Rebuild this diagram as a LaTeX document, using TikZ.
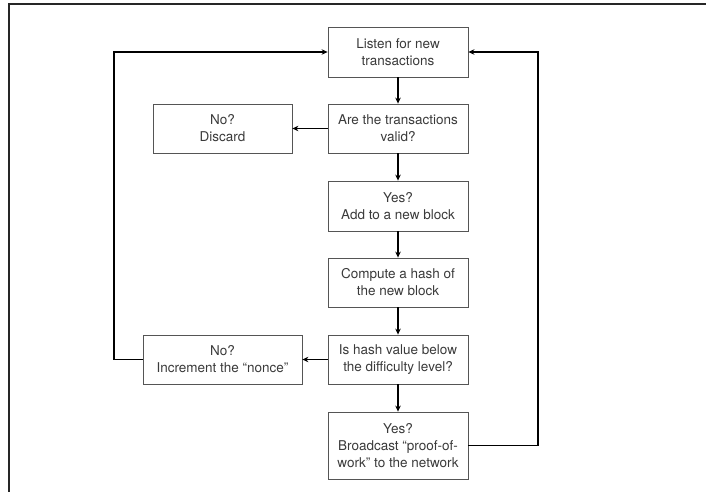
\documentclass[tikz,border=0pt]{standalone}
\usepackage{fontspec}
\setmainfont{TeX Gyre Heros}
\usetikzlibrary{arrows.meta}
\definecolor{boxline}{HTML}{555555}
\definecolor{txt}{HTML}{3A3A3A}
\tikzset{
  flowbox/.style={draw=boxline, line width=0.8pt, minimum width=140pt, minimum height=49pt,
    inner sep=0pt, align=center, text=txt, font=\fontsize{13.5}{17}\selectfont},
  arr/.style={draw=black, line width=1.3pt, -{Stealth[length=6pt,width=5.5pt]}},
  frameline/.style={draw=black!85, line width=1.1pt}
}
\begin{document}
\begin{tikzpicture}[x=1pt,y=-1pt]
\useasboundingbox (0,0) rectangle (706,492);
\draw[frameline] (9,492) -- (9,4) -- (706,4);
\node[flowbox, minimum height=50pt] (b1) at (398,52) {Listen for new\\transactions};
\node[flowbox] (b2) at (398,128.5) {Are the transactions\\valid?};
\node[flowbox, minimum height=50pt] (b3) at (398,206) {Yes?\\Add to a new block};
\node[flowbox] (b4) at (398,282.5) {Compute a hash of\\the new block};
\node[flowbox] (b5) at (398,359.5) {Is hash value below\\the difficulty level?};
\node[flowbox, minimum height=67pt] (b6) at (398,445.5) {Yes?\\Broadcast “proof-of-\\work” to the network};
\node[flowbox, minimum width=139pt] (disc) at (222.5,128.5) {No?\\Discard};
\node[flowbox, minimum width=159pt] (inc) at (222.5,359.5) {No?\\Increment the “nonce”};
\coordinate (lc) at (114,52);
\coordinate (rc) at (538,52);
\draw[arr] (b1) -- (b2);
\draw[arr] (b2) -- (b3);
\draw[arr] (b3) -- (b4);
\draw[arr] (b4) -- (b5);
\draw[arr] (b5) -- (b6);
\draw[arr] (b2) -- (disc);
\draw[arr] (b5) -- (inc);
\draw[arr] (inc.west) -| (lc) -- (b1.west);
\draw[arr] (b6.east) -| (rc) -- (b1.east);
\end{tikzpicture}
\end{document}
